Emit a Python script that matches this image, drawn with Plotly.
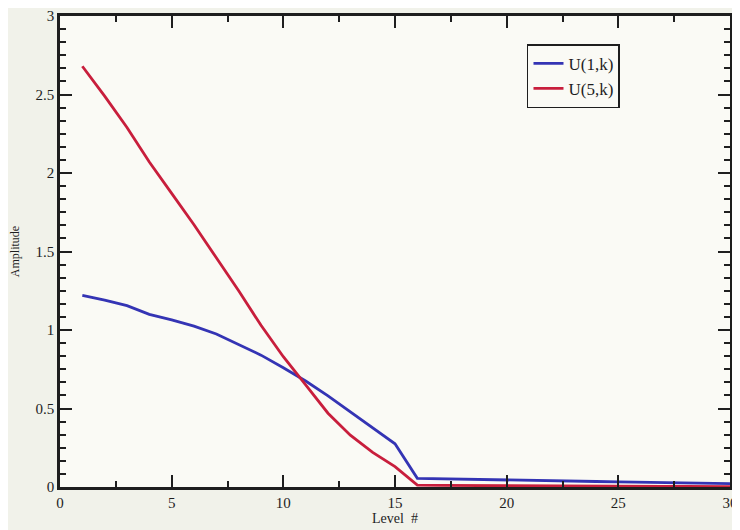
import plotly.graph_objects as go

level = list(range(1, 31))
u1k = [1.22, 1.19, 1.155, 1.10, 1.065, 1.025, 0.975, 0.91, 0.84, 0.76,
       0.675, 0.58, 0.48, 0.38, 0.275, 0.055, 0.052, 0.05, 0.047, 0.044,
       0.042, 0.04, 0.038, 0.035, 0.033, 0.03, 0.028, 0.026, 0.023, 0.021]
u5k = [2.68, 2.49, 2.29, 2.07, 1.87, 1.67, 1.46, 1.25, 1.03, 0.83,
       0.65, 0.47, 0.33, 0.22, 0.13, 0.012, 0.01, 0.009, 0.009, 0.008,
       0.007, 0.007, 0.006, 0.006, 0.005, 0.005, 0.004, 0.004, 0.004, 0.003]
x_ticks = [0, 5, 10, 15, 20, 25, 30]
y_ticks = [0, 0.5, 1, 1.5, 2, 2.5, 3]
y_tick_text = ["0", "0.5", "1", "1.5", "2", "2.5", "3"]

FONT = "Liberation Serif, Times New Roman, serif"
INK = "#1e1e1e"

fig = go.Figure()
fig.add_trace(go.Scatter(x=level, y=u1k, mode="lines", name="U(1,k)",
                         line=dict(color="#3434b4", width=2.8)))
fig.add_trace(go.Scatter(x=level, y=u5k, mode="lines", name="U(5,k)",
                         line=dict(color="#c81e3c", width=2.8)))

axis_common = dict(
    showline=True, linecolor=INK, linewidth=2.5, mirror="ticks",
    ticks="inside", tickcolor=INK, tickwidth=2, ticklen=12,
    showgrid=False, zeroline=False, automargin=False,
    tickfont=dict(family=FONT, size=15, color=INK),
)

fig.update_xaxes(range=[0, 30], tickvals=x_ticks,
                 minor=dict(dtick=2.5, ticks="inside", ticklen=6, tickcolor=INK, tickwidth=2),
                 title=dict(text="Level  #", font=dict(family=FONT, size=14, color=INK), standoff=4),
                 **axis_common)
fig.update_yaxes(range=[0, 3], tickvals=y_ticks, ticktext=y_tick_text,
                 minor=dict(dtick=0.5 / 6, ticks="inside", ticklen=6, tickcolor=INK, tickwidth=2),
                 title=dict(text="Amplitude", font=dict(family=FONT, size=12, color=INK), standoff=14),
                 **axis_common)

# page body adds an 8px offset, margins compensate so the plot frame lands where the reference has it
fig.update_layout(
    width=740, height=530,
    margin=dict(l=52, r=18, t=8, b=51),
    paper_bgcolor="#f1f2ea", plot_bgcolor="#fafaf5",
    font=dict(family=FONT, color=INK),
    showlegend=True,
    legend=dict(x=0.697, y=0.94, xanchor="left", yanchor="top",
                bgcolor="#fafaf5", bordercolor=INK, borderwidth=1.5,
                font=dict(family=FONT, size=17, color=INK),
                itemwidth=30),
)

fig.write_html("out.html")
